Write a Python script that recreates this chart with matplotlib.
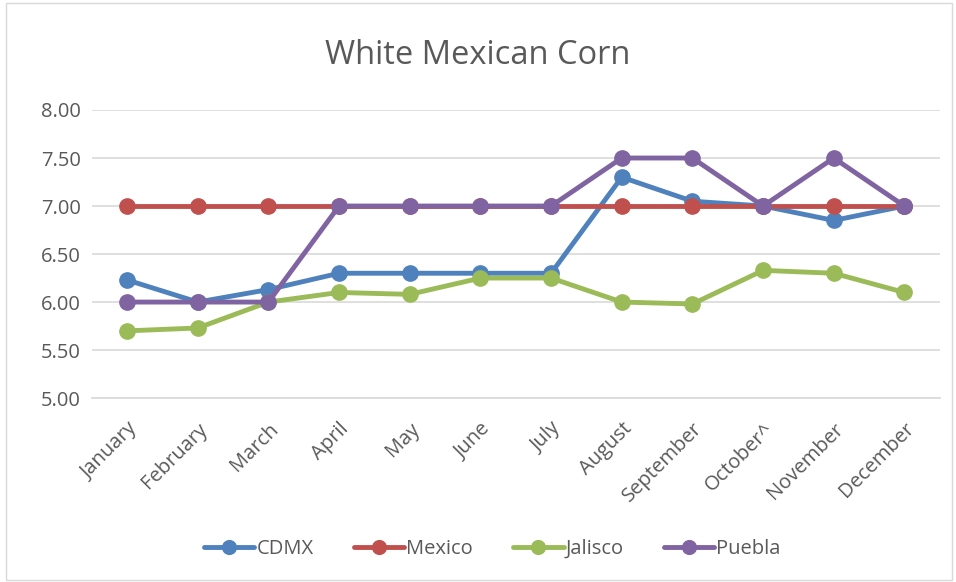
import matplotlib
matplotlib.use('Agg')
import matplotlib.pyplot as plt
from matplotlib.patches import Rectangle

months = ['January', 'February', 'March', 'April', 'May', 'June', 'July',
          'August', 'September', 'October^', 'November', 'December']
cdmx = [6.23, 6.00, 6.13, 6.30, 6.30, 6.30, 6.30, 7.30, 7.05, 7.00, 6.85, 7.00]
mexico = [7.00] * 12
jalisco = [5.70, 5.73, 6.00, 6.10, 6.08, 6.25, 6.25, 6.00, 5.98, 6.33, 6.30, 6.10]
puebla = [6.00, 6.00, 6.00, 7.00, 7.00, 7.00, 7.00, 7.50, 7.50, 7.00, 7.50, 7.00]

series = [('CDMX', cdmx, '#4f81bd'), ('Mexico', mexico, '#c0504d'),
          ('Jalisco', jalisco, '#9bbb59'), ('Puebla', puebla, '#8064a2')]

plt.rcParams['font.family'] = ['Open Sans', 'DejaVu Sans']
TXT = '#595959'

fig = plt.figure(figsize=(9.56, 5.82), dpi=100)
ax = fig.add_axes([0.096, 0.316, 0.887, 0.495])

x = list(range(len(months)))
for name, vals, col in series:
    ax.plot(x, vals, '-o', color=col, lw=3.5, ms=11, label=name,
            solid_capstyle='round', solid_joinstyle='round')

ax.set_xlim(-0.5, len(months) - 0.5)
ax.set_ylim(5.0, 8.0)
ax.set_yticks([5.0, 5.5, 6.0, 6.5, 7.0, 7.5, 8.0])
ax.set_yticklabels([f'{v:.2f}' for v in ax.get_yticks()], fontsize=14.5, color=TXT)
ax.set_xticks(x)
ax.set_xticklabels(months, rotation=45, ha='right', rotation_mode='anchor',
                   fontsize=14.5, color=TXT)
ax.tick_params(length=0, pad=8)
ax.tick_params(axis='x', pad=15)
ax.grid(axis='y', color='#d9d9d9', lw=1.2)
ax.set_axisbelow(True)
for s in ['top', 'right', 'left']:
    ax.spines[s].set_visible(False)
ax.spines['bottom'].set_color('#d9d9d9')
ax.spines['bottom'].set_linewidth(1.2)

fig.text(0.5, 0.905, 'White Mexican Corn', ha='center', va='center',
         fontsize=23.5, color=TXT)

leg = fig.legend(loc='center', bbox_to_anchor=(0.515, 0.057), ncol=4,
                 frameon=False, fontsize=14.5, handlelength=2.5, columnspacing=2.0,
                 handletextpad=0.1, markerscale=0.9)
for t in leg.get_texts():
    t.set_color(TXT)

fig.patches.append(Rectangle((0.006, 0.004), 0.99, 0.99, transform=fig.transFigure,
                             fill=False, edgecolor='#d9d9d9', lw=1))

fig.savefig('out.png', dpi=100)
